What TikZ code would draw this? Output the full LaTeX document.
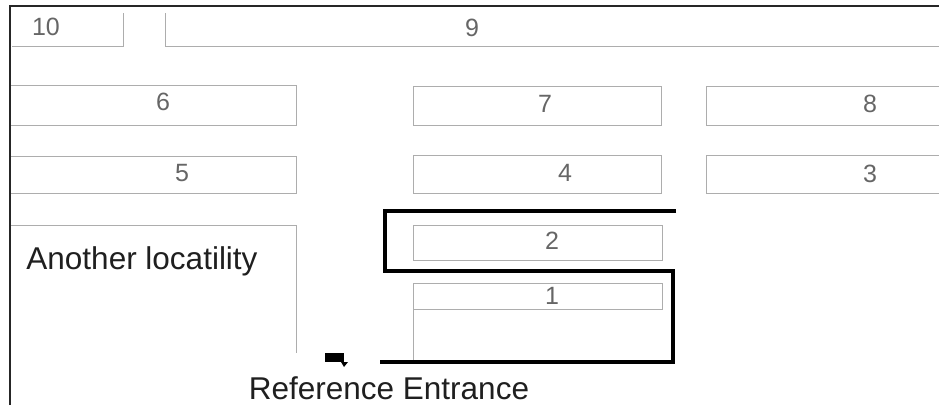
\documentclass[tikz,border=0pt]{standalone}
\usepackage{fontspec}
\setmainfont{Liberation Sans}
\begin{document}
\begin{tikzpicture}[x=1pt,y=-1pt,
  frame/.style={draw=black!85, line width=1.5pt},
  lot/.style={draw=black!32, line width=1pt},
  num/.style={text=black!60, font=\fontsize{25}{25}\selectfont, inner sep=0pt},
  caption/.style={text=black!88, font=\fontsize{31.5}{31.5}\selectfont, inner sep=0pt},
  route/.style={draw=black, line width=4pt, line join=miter}]
\useasboundingbox[fill=white] (0,0) rectangle (939,405);

% outer border (left and top)
\draw[frame] (10,405) -- (10,6) -- (939,6);

% top strip: lots 10 and 9
\draw[lot] (12,46) -- (123,46) -- (123,13);
\draw[lot] (165,13) -- (165,46) -- (945,46);
\node[num] (n10) at (46,27) {10};
\node[num] (n9) at (472,28) {9};

% second row: 6, 7, 8
\draw[lot] (11,85) -- (296,85) -- (296,125) -- (11,125);
\draw[lot] (413,86) rectangle (661,125);
\draw[lot] (945,86) -- (706,86) -- (706,125) -- (945,125);
\node[num] (n6) at (163,102) {6};
\node[num] (n7) at (545,104) {7};
\node[num] (n8) at (870,104) {8};

% third row: 5, 4, 3
\draw[lot] (11,156) -- (296,156) -- (296,193) -- (11,193);
\draw[lot] (413,155) rectangle (661,193);
\draw[lot] (945,155) -- (706,155) -- (706,193) -- (945,193);
\node[num] (n5) at (182,173) {5};
\node[num] (n4) at (565,173) {4};
\node[num] (n3) at (870,174) {3};

% neighbouring locality
\draw[lot] (11,225) -- (296,225) -- (296,353);
\node[caption] (other) at (142,261) {Another locatility};

% lots 2 and 1
\draw[lot] (413,225) rectangle (662,260);
\draw[lot] (413,283) rectangle (662,309);
\draw[lot] (413,309) -- (413,360);
\node[num] (n2) at (552,241) {2};
\node[num] (n1) at (552,296) {1};

% walking route from the entrance
\coordinate (r0) at (676,211);
\coordinate (r1) at (385,211);
\coordinate (r2) at (385,271);
\coordinate (r3) at (673,271);
\coordinate (r4) at (673,362);
\coordinate (r5) at (380,362);
\draw[route] (r0) -- (r1) -- (r2) -- (r3) -- (r4) -- (r5);

% entrance marker
\fill[black] (325,353) rectangle (344,362);
\fill[black] (341,362) -- (348,362) -- (344,367) -- cycle;
\node[caption, anchor=base] (entrance) at (389,399) {Reference Entrance};
\end{tikzpicture}
\end{document}
